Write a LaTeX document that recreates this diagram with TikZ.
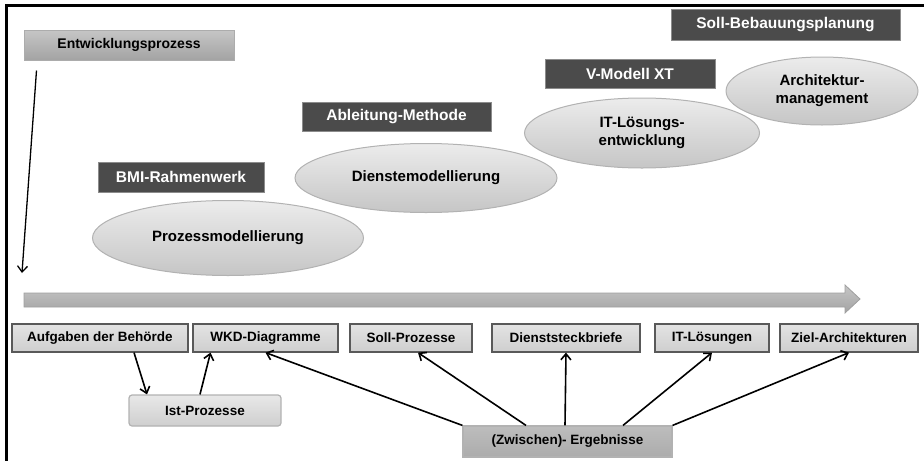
\documentclass[tikz,border=0pt]{standalone}
\usepackage{fontspec}
\setmainfont{Liberation Sans}
\usetikzlibrary{arrows.meta,positioning,shapes.geometric,calc}
\definecolor{methodgray}{HTML}{4B4B4B}

\begin{document}
\begin{tikzpicture}[
    x=1pt, y=-1pt,
    methodbox/.style={rectangle, draw=black!45, line width=1pt, fill=methodgray, text=white!88, font=\bfseries\fontsize{15.5}{17}\selectfont, inner sep=0pt},
    phase/.style={ellipse, draw=gray!60, line width=1pt, top color=gray!15, bottom color=gray!45, align=center, font=\bfseries\fontsize{15}{18}\selectfont, inner sep=0pt},
    result/.style={rectangle, draw=black!65, line width=1.2pt, top color=gray!22, bottom color=gray!38, font=\bfseries\fontsize{13.5}{15}\selectfont, inner sep=0pt, minimum height=28pt},
    arrow/.style={-{Straight Barb[length=6pt,width=10pt]}, line width=1.6pt}
  ]
    \useasboundingbox (0,0) rectangle (924,461);
    % frame
    \draw[line width=3pt] (5,5) -- (924,5);
    \draw[line width=3pt] (6,5) -- (6,461);

    \node[rectangle, draw=gray!65, line width=1pt, top color=gray!45, bottom color=gray!72, font=\bfseries\fontsize{14}{16}\selectfont, minimum width=210pt, minimum height=30pt, inner sep=0pt] (entw) at (129,45) {Entwicklungsprozess};
    \coordinate (zeitstart) at (22,273);

    % methods and phases
    \node[methodbox, minimum width=229pt, minimum height=31pt] (soll) at (785.5,24.5) {Soll-Bebauungsplanung};
    \node[methodbox, minimum width=170pt, minimum height=29pt] (vmod) at (630,73.5) {V-Modell XT};
    \node[methodbox, minimum width=189pt, minimum height=29pt] (ableit) at (396.5,116.5) {Ableitung-Methode};
    \node[methodbox, minimum width=166pt, minimum height=30pt] (bmi) at (181,177) {BMI-Rahmenwerk};

    \node[phase, minimum width=271pt, minimum height=75pt] (proz) at (228,238) {Prozessmodellierung};
    \node[phase, minimum width=262pt, minimum height=69pt] (dienst) at (426,178) {Dienstemodellierung};
    \node[phase, minimum width=235pt, minimum height=70pt] (itl) at (642,133) {IT-Lösungs-\\entwicklung};
    \node[phase, minimum width=192pt, minimum height=68pt] (arch) at (822,91) {Architektur-\\management};

    % time axis
    \shade[top color=gray!45, bottom color=gray!72, draw=gray!75, line width=0.8pt] (24,293) -- (845,293) -- (845,285) -- (860,299) -- (845,313) -- (845,307) -- (24,307) -- cycle;

    % results
    \node[result, minimum width=176pt] (aufg) at (100,338) {Aufgaben der Behörde};
    \node[result, minimum width=145pt] (wkd) at (265.5,338) {WKD-Diagramme};
    \node[result, minimum width=122pt] (sollp) at (411,338) {Soll-Prozesse};
    \node[result, minimum width=148pt] (dsb) at (566,338) {Dienststeckbriefe};
    \node[result, minimum width=114pt] (itloes) at (712,338) {IT-Lösungen};
    \node[result, minimum width=138pt] (ziel) at (849,338) {Ziel-Architekturen};

    \node[result, rounded corners=3pt, draw=gray!60, top color=gray!18, bottom color=gray!38, minimum width=152pt, minimum height=31pt] (ist) at (205,410.5) {Ist-Prozesse};
    \node[result, draw=gray!60, top color=gray!52, bottom color=gray!65, minimum width=209pt, minimum height=31pt] (erg) at (567.5,441.5) {(Zwischen)- Ergebnisse};

    \draw[arrow, line width=1.3pt] ([xshift=13pt,yshift=-10pt]entw.south west) -- (zeitstart);

    \draw[arrow] ([xshift=34pt]aufg.south) -- ([xshift=-58pt]ist.north);
    \draw[arrow] ([xshift=-5pt]ist.north) -- ([xshift=-55pt]wkd.south);
    \draw[arrow] (erg.north west) -- (wkd.south);
    \draw[arrow] ([xshift=-41.5pt]erg.north) -- ([xshift=7pt]sollp.south);
    \draw[arrow] ([xshift=-2.5pt]erg.north) -- (dsb.south);
    \draw[arrow] ([xshift=55.5pt]erg.north) -- (itloes.south);
    \draw[arrow] (erg.north east) -- (ziel.south);
  \end{tikzpicture}
\end{document}
